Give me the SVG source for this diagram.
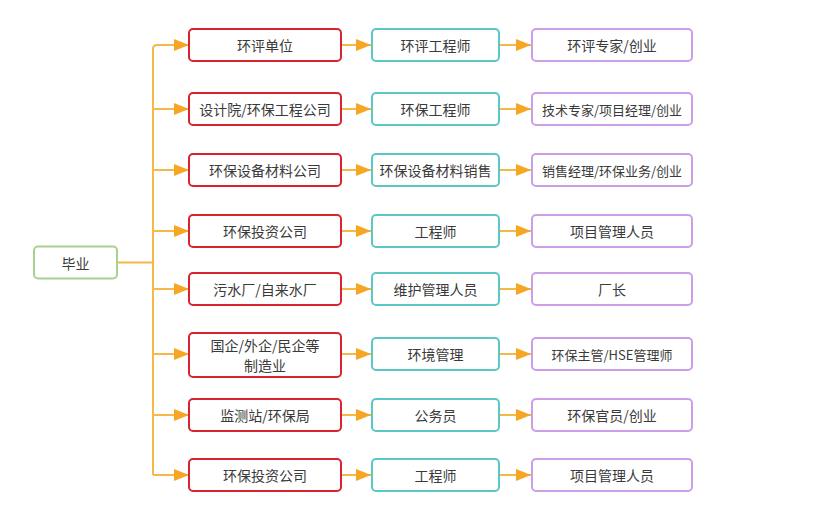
<svg xmlns="http://www.w3.org/2000/svg" width="840" height="519" viewBox="0 0 840 519">
<style>
text{font-family:"Noto Sans CJK SC","Liberation Sans",sans-serif;font-size:14px;fill:#3a3a3a;text-anchor:middle;dominant-baseline:central}
.box{fill:#fff;stroke-width:2}
.root{stroke:#A9D18E}
.c1{stroke:#D9232E}
.c2{stroke:#5CC8C6}
.c3{stroke:#CC9EEA}
.ln{stroke:#F7B84A;stroke-width:2;fill:none}
.ar{stroke:#F7B84A;stroke-width:2;fill:none;marker-end:url(#ah)}
.sm{font-size:13px}
</style>
<defs>
<marker id="ah" markerUnits="userSpaceOnUse" markerWidth="16" markerHeight="12" refX="15" refY="6" orient="auto">
<path d="M0,0 L15,6 L0,12 z" fill="#F5A623"/>
</marker>
</defs>
<g id="connectors">
<path class="ln" d="M117,262.5 H153"/>
<path class="ln" d="M153,475 V49 Q153,45 157,45"/>
<path class="ar" d="M157,45 H189"/>
<path class="ar" d="M153,109 H189"/>
<path class="ar" d="M153,170 H189"/>
<path class="ar" d="M153,231 H189"/>
<path class="ar" d="M153,289 H189"/>
<path class="ar" d="M153,354 H189"/>
<path class="ar" d="M153,415 H189"/>
<path class="ar" d="M153,475 H189"/>
<path class="ar" d="M341,45 H371"/>
<path class="ar" d="M341,109 H371"/>
<path class="ar" d="M341,170 H371"/>
<path class="ar" d="M341,231 H371"/>
<path class="ar" d="M341,289 H371"/>
<path class="ar" d="M341,354 H371"/>
<path class="ar" d="M341,415 H371"/>
<path class="ar" d="M341,475 H371"/>
<path class="ar" d="M499,45 H531"/>
<path class="ar" d="M499,109 H531"/>
<path class="ar" d="M499,170 H531"/>
<path class="ar" d="M499,231 H531"/>
<path class="ar" d="M499,289 H531"/>
<path class="ar" d="M499,354 H531"/>
<path class="ar" d="M499,415 H531"/>
<path class="ar" d="M499,475 H531"/>
</g>
<g id="root"><rect class="box root" x="34" y="246.5" width="83" height="32" rx="4"/><text x="75.5" y="262.5">毕业</text></g>
<g id="r1c1"><rect class="box c1" x="189" y="29" width="152" height="32" rx="4"/><text x="265" y="45">环评单位</text></g>
<g id="r1c2"><rect class="box c2" x="372" y="29" width="127" height="32" rx="4"/><text x="435.5" y="45">环评工程师</text></g>
<g id="r1c3"><rect class="box c3" x="532" y="29" width="160" height="32" rx="4"/><text x="612" y="45">环评专家/创业</text></g>
<g id="r2c1"><rect class="box c1" x="189" y="93" width="152" height="32" rx="4"/><text x="265" y="109">设计院/环保工程公司</text></g>
<g id="r2c2"><rect class="box c2" x="372" y="93" width="127" height="32" rx="4"/><text x="435.5" y="109">环保工程师</text></g>
<g id="r2c3"><rect class="box c3" x="532" y="93" width="160" height="32" rx="4"/><text class="sm" x="612" y="109">技术专家/项目经理/创业</text></g>
<g id="r3c1"><rect class="box c1" x="189" y="154" width="152" height="32" rx="4"/><text x="265" y="170">环保设备材料公司</text></g>
<g id="r3c2"><rect class="box c2" x="372" y="154" width="127" height="32" rx="4"/><text x="435.5" y="170">环保设备材料销售</text></g>
<g id="r3c3"><rect class="box c3" x="532" y="154" width="160" height="32" rx="4"/><text class="sm" x="612" y="170">销售经理/环保业务/创业</text></g>
<g id="r4c1"><rect class="box c1" x="189" y="215" width="152" height="32" rx="4"/><text x="265" y="231">环保投资公司</text></g>
<g id="r4c2"><rect class="box c2" x="372" y="215" width="127" height="32" rx="4"/><text x="435.5" y="231">工程师</text></g>
<g id="r4c3"><rect class="box c3" x="532" y="215" width="160" height="32" rx="4"/><text x="612" y="231">项目管理人员</text></g>
<g id="r5c1"><rect class="box c1" x="189" y="273" width="152" height="32" rx="4"/><text x="265" y="289">污水厂/自来水厂</text></g>
<g id="r5c2"><rect class="box c2" x="372" y="273" width="127" height="32" rx="4"/><text x="435.5" y="289">维护管理人员</text></g>
<g id="r5c3"><rect class="box c3" x="532" y="273" width="160" height="32" rx="4"/><text x="612" y="289">厂长</text></g>
<g id="r6c1"><rect class="box c1" x="189" y="333" width="152" height="44" rx="4"/><text x="265" y="345">国企/外企/民企等</text><text x="265" y="365">制造业</text></g>
<g id="r6c2"><rect class="box c2" x="372" y="338" width="127" height="32" rx="4"/><text x="435.5" y="354">环境管理</text></g>
<g id="r6c3"><rect class="box c3" x="532" y="338" width="160" height="32" rx="4"/><text class="sm" x="612" y="354">环保主管/HSE管理师</text></g>
<g id="r7c1"><rect class="box c1" x="189" y="399" width="152" height="32" rx="4"/><text x="265" y="415">监测站/环保局</text></g>
<g id="r7c2"><rect class="box c2" x="372" y="399" width="127" height="32" rx="4"/><text x="435.5" y="415">公务员</text></g>
<g id="r7c3"><rect class="box c3" x="532" y="399" width="160" height="32" rx="4"/><text x="612" y="415">环保官员/创业</text></g>
<g id="r8c1"><rect class="box c1" x="189" y="459" width="152" height="32" rx="4"/><text x="265" y="475">环保投资公司</text></g>
<g id="r8c2"><rect class="box c2" x="372" y="459" width="127" height="32" rx="4"/><text x="435.5" y="475">工程师</text></g>
<g id="r8c3"><rect class="box c3" x="532" y="459" width="160" height="32" rx="4"/><text x="612" y="475">项目管理人员</text></g>
</svg>
